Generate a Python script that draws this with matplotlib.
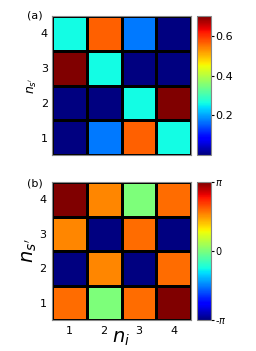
import numpy as np
import matplotlib.pyplot as plt

# cell values, rows from n_s'=1 (bottom) to 4 (top), columns n_i = 1..4
amp = [[0.00, 0.17, 0.565, 0.26],
       [0.00, 0.00, 0.26, 0.70],
       [0.70, 0.26, 0.00, 0.00],
       [0.26, 0.565, 0.17, 0.00]]
phase = [[1.86, 0.00, 1.86, np.pi],
         [-np.pi, 1.68, -np.pi, 1.86],
         [1.68, -np.pi, 1.86, -np.pi],
         [np.pi, 1.68, 0.00, 1.86]]
idx = [1, 2, 3, 4]
amp_ticks = [0.2, 0.4, 0.6]
phase_ticks = [-np.pi, 0, np.pi]
phase_labels = ['-$\\pi$', '0', '$\\pi$']

fig = plt.figure(figsize=(2.56, 3.51), dpi=100)
W, H = 256., 351.

def box(x0, y0, x1, y1):
    return [x0 / W, 1 - y1 / H, (x1 - x0) / W, (y1 - y0) / H]

edges = np.arange(0.5, 5, 1)

# (a)
ax1 = fig.add_axes(box(52, 16, 191, 155))
m1 = ax1.pcolormesh(edges, edges, np.array(amp), cmap='jet', vmin=0, vmax=0.70,
                    edgecolor='black', linewidth=0.8)
ax1.set_xticks(idx)
ax1.set_xticklabels([])
ax1.set_yticks(idx)
ax1.tick_params(length=0, labelsize=8, pad=3)
ax1.set_ylabel("$n_{s'}$", fontsize=9, labelpad=1)
for s in ax1.spines.values():
    s.set_color('#888888')
fig.text(27 / W, 1 - 16 / H, '(a)', fontsize=8, va='center')
cax1 = fig.add_axes(box(197, 16, 211, 155))
cb1 = fig.colorbar(m1, cax=cax1, ticks=amp_ticks)
cb1.ax.tick_params(labelsize=8, length=2, pad=1)
cb1.outline.set_color('#888888')

# (b)
ax2 = fig.add_axes(box(52, 182, 191, 320))
m2 = ax2.pcolormesh(edges, edges, np.array(phase), cmap='jet', vmin=-np.pi, vmax=np.pi,
                    edgecolor='black', linewidth=0.8)
ax2.set_xticks(idx)
ax2.set_yticks(idx)
ax2.tick_params(length=0, labelsize=8, pad=4)
ax2.set_ylabel("$n_{s'}$", fontsize=14, labelpad=0)
ax2.set_xlabel("$n_i$", fontsize=14, labelpad=-5)
for s in ax2.spines.values():
    s.set_color('#888888')
fig.text(27 / W, 1 - 184 / H, '(b)', fontsize=8, va='center')
cax2 = fig.add_axes(box(197, 182, 211, 320))
cb2 = fig.colorbar(m2, cax=cax2, ticks=phase_ticks)
cb2.ax.set_yticklabels(phase_labels)
cb2.ax.tick_params(labelsize=7, length=2, pad=1)
cb2.outline.set_color('#888888')

fig.savefig('out.png', dpi=100)
